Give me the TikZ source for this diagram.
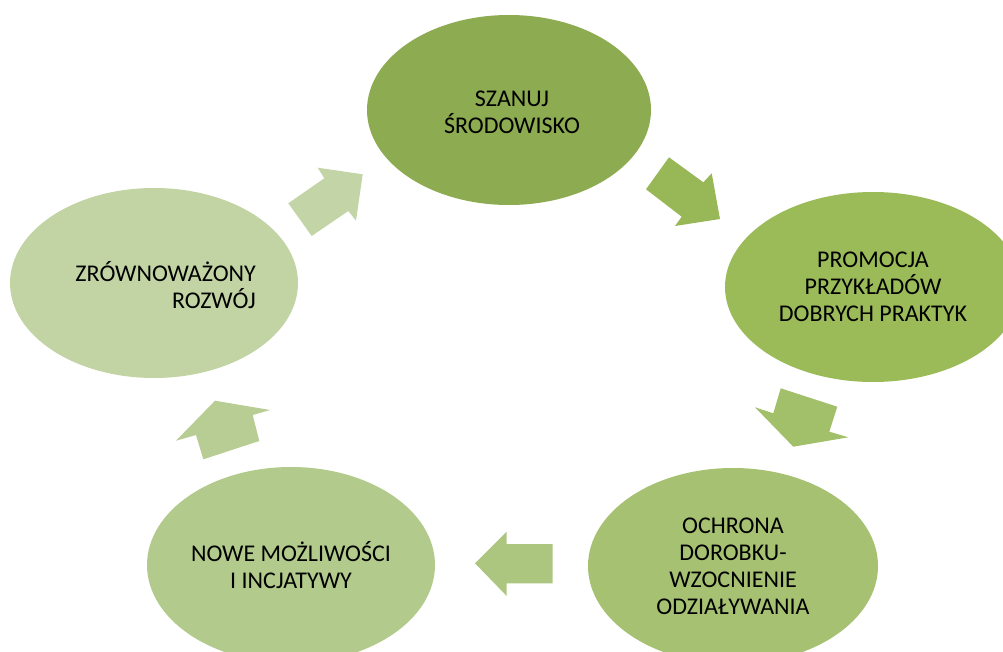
\documentclass[tikz,border=0pt]{standalone}
\usepackage{fontspec}
\setmainfont{Carlito}
\usetikzlibrary{shapes.geometric}

\definecolor{greenA}{HTML}{8DAB50}
\definecolor{greenB}{HTML}{9BBB59}
\definecolor{greenC}{HTML}{A6C172}
\definecolor{greenD}{HTML}{B2CA8B}
\definecolor{greenE}{HTML}{C2D4A4}
\definecolor{arrowA}{HTML}{98B757}
\definecolor{arrowB}{HTML}{A2BF69}
\definecolor{arrowC}{HTML}{ADC67F}
\definecolor{arrowD}{HTML}{B7CD93}
\definecolor{arrowE}{HTML}{C3D5A6}

\tikzset{
  bubble/.style={ellipse, inner sep=0pt, align=center,
    font=\fontsize{24}{27}\selectfont},
}

\begin{document}
\begin{tikzpicture}[x=1pt, y=-1pt]
      \useasboundingbox (0,0) rectangle (1003,652);
      %
      \node[bubble, fill=greenA, minimum width=284pt, minimum height=190pt] (szanuj) at (509,110) {};      % top
      \node at (512,112) [align=center, font=\fontsize{24}{27}\selectfont] (szanujtxt) {SZANUJ\\ŚRODOWISKO};
      \node[bubble, fill=greenB, minimum width=296pt, minimum height=190pt] (promocja) at (873,287)
        {PROMOCJA\\PRZYKŁADÓW\\DOBRYCH PRAKTYK};                                                         % right
      %%
      \node[bubble, fill=greenC, minimum width=290pt, minimum height=196pt] (ochrona) at (733,566)
        {OCHRONA\\DOROBKU-\\WZOCNIENIE\\ODZIAŁYWANIA};                                                  % bottom right
      \node[bubble, fill=greenD, minimum width=288pt, minimum height=196pt] (nowe) at (291,565)
        {NOWE MOŻLIWOŚCI\\I INCJATYWY};                                                                   % bottom left
      \node[bubble, fill=greenE, minimum width=288pt, minimum height=190pt] (rozwoj) at (154,283) {};   % left
      \node[anchor=east, align=right, inner sep=0pt, font=\fontsize{24}{27}\selectfont] (rozwojtxt) at (256,285)
        {ZRÓWNOWAŻONY\\ROZWÓJ};
      %
      % arrows
      \fill[arrowA] (669,157.3) -- (703.3,182.3) -- (711.7,173.3) -- (720,219)
        -- (675,226) -- (681.7,216.7) -- (646,189.3) -- cycle;                  % top -> right
      \fill[arrowB] (837.3,406.7) -- (829.3,431.7) -- (848.3,437.3) -- (793.3,446.7)
        -- (755,407.3) -- (773.3,413.3) -- (780.7,388.3) -- cycle;              % right -> bottom right
      \fill[arrowC] (552.7,544) -- (506.7,544) -- (506.7,531.7) -- (475,563.3)
        -- (506.7,596) -- (506.7,583.3) -- (552.7,583.3) -- cycle;              % bottom right -> bottom left
      \fill[arrowD] (203.3,459.3) -- (196,435) -- (176,440.7) -- (215,400.7)
        -- (270,410) -- (252.7,415) -- (259.3,441) -- cycle;                    % bottom left -> left
      \fill[arrowE] (288.3,203.3) -- (324.3,178.3) -- (317.7,167.7) -- (362.7,174.3)
        -- (356,220.7) -- (348.3,211) -- (311.7,236) -- cycle;                  % left -> top
      %
    \end{tikzpicture}
\end{document}
